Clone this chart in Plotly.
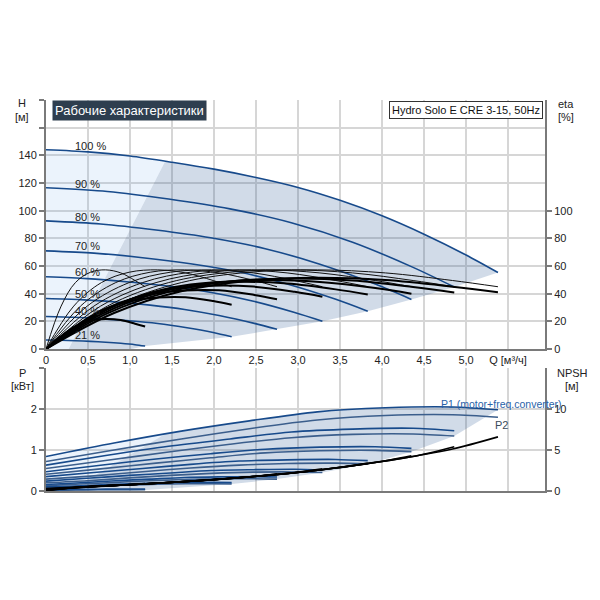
import plotly.graph_objects as go

# ---------------- data ----------------
speed_labels = ["100 %", "90 %", "80 %", "70 %", "60 %", "50 %", "40 %", "21 %"]
speed_label_q = 0.32
speed_label_h = [146.4, 119.0, 95.7, 74.1, 55.3, 39.6, 27.5, 10.1]

x_tick_vals = [0, 0.5, 1.0, 1.5, 2.0, 2.5, 3.0, 3.5, 4.0, 4.5, 5.0, 5.5]
x_tick_text = ["0", "0,5", "1,0", "1,5", "2,0", "2,5", "3,0", "3,5", "4,0", "4,5", "5,0", "Q [м³/ч]"]
h_tick_vals = [0, 20, 40, 60, 80, 100, 120, 140, 160, 180]
h_tick_text = ["0", "20", "40", "60", "80", "100", "120", "140", "", ""]
eta_tick_vals = [0, 20, 40, 60, 80, 100]
p_tick_vals = [0, 1, 2, 3]
p_tick_text = ["0", "1", "2", ""]
npsh_tick_vals = [0, 5, 10]

# flow points (m3/h) per speed
q_100 = [0, 0.81, 1.61, 2.42, 3.23, 4.04, 4.84, 5.38]
q_90 = [0, 0.73, 1.46, 2.19, 2.92, 3.65, 4.37, 4.86]
q_80 = [0, 0.65, 1.31, 1.96, 2.61, 3.26, 3.92, 4.35]
q_70 = [0, 0.57, 1.15, 1.72, 2.30, 2.87, 3.45, 3.83]
q_60 = [0, 0.49, 0.99, 1.48, 1.97, 2.47, 2.96, 3.29]
q_50 = [0, 0.41, 0.83, 1.24, 1.65, 2.06, 2.48, 2.75]
q_40 = [0, 0.33, 0.66, 0.99, 1.33, 1.66, 1.99, 2.21]
q_21 = [0, 0.18, 0.35, 0.53, 0.71, 0.89, 1.06, 1.18]

# head H (m)
q_h100 = [0, 0.5, 1.0, 1.5, 2.0, 2.5, 3.0, 3.5, 4.0, 4.5, 5.0, 5.38]
h_100 = [144, 142.5, 139.5, 135, 130, 124, 116.8, 107.5, 96.3, 83, 68, 55.3]
h_90 = [116.6, 113.9, 108.4, 101.3, 91.3, 77.2, 59.0, 44.8]
h_80 = [92.6, 90.4, 86.0, 80.4, 72.5, 61.3, 46.9, 35.8]
h_70 = [70.9, 69.3, 66.0, 61.6, 55.6, 47.0, 35.9, 27.3]
h_60 = [52.2, 50.9, 48.4, 45.3, 40.8, 34.5, 26.4, 20.1]
h_50 = [36.5, 35.7, 34.0, 31.7, 28.6, 24.2, 18.5, 14.2]
h_40 = [23.5, 22.9, 21.8, 20.4, 18.4, 15.5, 11.9, 8.8]
h_21 = [6.5, 6.3, 6.0, 5.5, 4.9, 4.1, 3.1, 2.1]

# pump efficiency (thin) and total efficiency (thick), %
eta_p_100 = [0, 31, 48, 55.5, 57.2, 55, 49.5, 45]
eta_p_90 = [0, 31, 48, 55.5, 57.2, 55, 49.5, 45]
eta_p_80 = [0, 31, 48, 55.5, 57.2, 55, 49.5, 45]
eta_p_70 = [0, 31, 48, 55.5, 57.2, 55, 49.5, 45]
eta_p_60 = [0, 31, 48, 55.5, 57.2, 55, 49.5, 45]
eta_p_50 = [0, 31, 48, 55.5, 57.2, 55, 49.5, 45]
eta_p_40 = [0, 31, 48, 55.5, 57.2, 55, 49.5, 45]
eta_p_21 = [0, 31, 48, 55.5, 57.2, 55, 49.5, 45]
eta_t_100 = [0, 26.0, 41.8, 49.4, 51.5, 49.8, 45.0, 41.0]
eta_t_90 = [0, 25.7, 41.3, 48.8, 50.9, 49.5, 44.8, 40.8]
eta_t_80 = [0, 24.8, 40.3, 47.7, 49.8, 48.4, 44.1, 40.0]
eta_t_70 = [0, 23.6, 38.9, 46.6, 48.6, 47.3, 43.1, 39.4]
eta_t_60 = [0, 21.1, 35.5, 43.3, 45.8, 45.1, 41.3, 37.8]
eta_t_50 = [0, 18.6, 32.2, 39.4, 42.3, 42.4, 39.1, 36.0]
eta_t_40 = [0, 15.5, 27.8, 34.4, 37.2, 37.4, 34.7, 32.0]
eta_t_21 = [0, 9.3, 16.3, 20.5, 21.7, 20.9, 18.3, 16.2]

# power P1 (motor + freq. converter) and P2, kW
p1_100 = [0.84, 1.17, 1.46, 1.71, 1.93, 2.03, 2.05, 1.98]
p1_90 = [0.63, 0.87, 1.09, 1.27, 1.44, 1.51, 1.53, 1.47]
p1_80 = [0.47, 0.63, 0.78, 0.91, 1.02, 1.07, 1.08, 1.04]
p1_70 = [0.35, 0.45, 0.55, 0.65, 0.73, 0.76, 0.77, 0.74]
p1_60 = [0.24, 0.31, 0.38, 0.44, 0.50, 0.52, 0.53, 0.51]
p1_50 = [0.16, 0.20, 0.25, 0.29, 0.33, 0.345, 0.35, 0.34]
p1_40 = [0.10, 0.12, 0.15, 0.175, 0.20, 0.21, 0.21, 0.205]
p1_21 = [0.03, 0.034, 0.038, 0.042, 0.045, 0.047, 0.047, 0.046]
p2_100 = [0.72, 1.00, 1.27, 1.52, 1.73, 1.84, 1.86, 1.80]
p2_90 = [0.55, 0.75, 0.95, 1.14, 1.30, 1.38, 1.39, 1.34]
p2_80 = [0.41, 0.54, 0.68, 0.81, 0.93, 0.98, 0.99, 0.96]
p2_70 = [0.29, 0.37, 0.47, 0.56, 0.63, 0.67, 0.68, 0.66]
p2_60 = [0.20, 0.25, 0.32, 0.38, 0.43, 0.46, 0.465, 0.45]
p2_50 = [0.13, 0.17, 0.21, 0.25, 0.28, 0.30, 0.30, 0.29]
p2_40 = [0.08, 0.10, 0.12, 0.145, 0.165, 0.175, 0.175, 0.17]
p2_21 = [0.015, 0.019, 0.023, 0.027, 0.030, 0.031, 0.032, 0.031]

# NPSH (m)
npsh_100 = [0.3, 0.68, 1.12, 1.72, 2.54, 3.67, 5.12, 6.6]
npsh_90 = [0.25, 0.64, 1.03, 1.53, 2.18, 3.08, 4.2, 5.4]
npsh_80 = [0.2, 0.6, 0.94, 1.36, 1.89, 2.57, 3.47, 4.3]
npsh_70 = [0.15, 0.56, 0.86, 1.2, 1.62, 2.14, 2.8, 3.4]
npsh_60 = [0.12, 0.52, 0.77, 1.04, 1.37, 1.77, 2.24, 2.7]
npsh_50 = [0.09, 0.48, 0.69, 0.9, 1.15, 1.43, 1.77, 2.1]
npsh_40 = [0.06, 0.4, 0.6, 0.77, 0.95, 1.15, 1.37, 1.6]
npsh_21 = [0.02, 0.25, 0.4, 0.5, 0.6, 0.7, 0.8, 0.9]

# operating-range shading boundaries
min_flow_q = [1.42, 0.88, 0.27]
min_flow_h = [135.8, 72, 0]
min_flow_p = [1.39, 0.0]
end_q = [4.86, 4.35, 3.83, 3.29, 2.75, 2.21, 1.18, 1.02]
end_h = [44.8, 35.8, 27.3, 20.1, 14.2, 8.8, 2.1, 0]
end_p2 = [1.34, 0.96, 0.66, 0.45, 0.29, 0.17, 0.031, 0]

# ---------------- figure ----------------
q_list = [q_100, q_90, q_80, q_70, q_60, q_50, q_40, q_21]
h_list = [h_100, h_90, h_80, h_70, h_60, h_50, h_40, h_21]
hq_list = [q_h100, q_90, q_80, q_70, q_60, q_50, q_40, q_21]
eta_p_list = [eta_p_100, eta_p_90, eta_p_80, eta_p_70, eta_p_60, eta_p_50, eta_p_40, eta_p_21]
eta_t_list = [eta_t_100, eta_t_90, eta_t_80, eta_t_70, eta_t_60, eta_t_50, eta_t_40, eta_t_21]
p1_list = [p1_100, p1_90, p1_80, p1_70, p1_60, p1_50, p1_40, p1_21]
p2_list = [p2_100, p2_90, p2_80, p2_70, p2_60, p2_50, p2_40, p2_21]
npsh_list = [npsh_100, npsh_90, npsh_80, npsh_70, npsh_60, npsh_50, npsh_40, npsh_21]

BLUE = "#174a8b"
BLUE2 = "#3b5e8c"
SHADE = "rgba(25,75,140,0.2)"
LIGHT = "rgba(100,160,230,0.13)"
GRID = "#d6d6d6"
AXIS = "#7a7a7a"
FONT = "Liberation Sans, Arial, sans-serif"

fig = go.Figure()

# --- H plot shading ---
lx = [q for q in q_h100 if q < min_flow_q[0]]
ly = [h for q, h in zip(q_h100, h_100) if q < min_flow_q[0]]
fig.add_trace(go.Scatter(
    x=[0] + lx + min_flow_q, y=[0] + ly + min_flow_h,
    fill="toself", fillcolor=LIGHT, line=dict(width=0), mode="lines",
    hoverinfo="skip", xaxis="x", yaxis="y"))
dx = [q for q in q_h100 if q > min_flow_q[0]]
dy = [h for q, h in zip(q_h100, h_100) if q > min_flow_q[0]]
fig.add_trace(go.Scatter(
    x=[min_flow_q[0]] + dx + end_q + min_flow_q[::-1][:2],
    y=[min_flow_h[0]] + dy + end_h + min_flow_h[::-1][:2],
    fill="toself", fillcolor=SHADE, line=dict(width=0), mode="lines",
    hoverinfo="skip", xaxis="x", yaxis="y"))

# --- H curves ---
for qq, hh in zip(hq_list, h_list):
    fig.add_trace(go.Scatter(x=qq, y=hh, mode="lines",
                             line=dict(color=BLUE, width=1.6, shape="spline", smoothing=0.8),
                             hoverinfo="skip", xaxis="x", yaxis="y"))

# --- efficiency curves ---
for qq, ee in zip(q_list, eta_p_list):
    fig.add_trace(go.Scatter(x=qq, y=ee, mode="lines",
                             line=dict(color="#111111", width=1, shape="spline", smoothing=1.0),
                             hoverinfo="skip", xaxis="x", yaxis="y2"))
for qq, ee in zip(q_list, eta_t_list):
    fig.add_trace(go.Scatter(x=qq, y=ee, mode="lines",
                             line=dict(color="#000000", width=2, shape="spline", smoothing=1.0),
                             hoverinfo="skip", xaxis="x", yaxis="y2"))

# --- P plot shading ---
plx = [q for q in q_100 if q < min_flow_q[0]]
ply = [p for q, p in zip(q_100, p1_100) if q < min_flow_q[0]]
fig.add_trace(go.Scatter(
    x=[0] + plx + [min_flow_q[0], min_flow_q[2]], y=[0] + ply + min_flow_p,
    fill="toself", fillcolor=LIGHT, line=dict(width=0), mode="lines",
    hoverinfo="skip", xaxis="x2", yaxis="y3"))
pdx = [q for q in q_100 if q > min_flow_q[0]]
pdy = [p for q, p in zip(q_100, p1_100) if q > min_flow_q[0]]
fig.add_trace(go.Scatter(
    x=[min_flow_q[0]] + pdx + end_q + [min_flow_q[2]],
    y=[min_flow_p[0]] + pdy + end_p2 + [min_flow_p[1]],
    fill="toself", fillcolor=SHADE, line=dict(width=0), mode="lines",
    hoverinfo="skip", xaxis="x2", yaxis="y3"))

# --- P curves ---
for qq, pp in zip(q_list, p2_list):
    fig.add_trace(go.Scatter(x=qq, y=pp, mode="lines",
                             line=dict(color=BLUE2, width=1.6, shape="spline", smoothing=0.8),
                             hoverinfo="skip", xaxis="x2", yaxis="y3"))
for qq, pp in zip(q_list, p1_list):
    fig.add_trace(go.Scatter(x=qq, y=pp, mode="lines",
                             line=dict(color=BLUE, width=1.6, shape="spline", smoothing=0.8),
                             hoverinfo="skip", xaxis="x2", yaxis="y3"))

# --- NPSH curves ---
for qq, nn in zip(q_list, npsh_list):
    fig.add_trace(go.Scatter(x=qq, y=nn, mode="lines",
                             line=dict(color="#000000", width=1.6, shape="spline", smoothing=0.8),
                             hoverinfo="skip", xaxis="x2", yaxis="y4"))

# --- annotations ---
ann = []
for lab, hv in zip(speed_labels, speed_label_h):
    ann.append(dict(x=speed_label_q, y=hv, xref="x", yref="y", text=lab, showarrow=False,
                    xanchor="left", yanchor="middle", font=dict(size=11, color="#222222", family=FONT)))

W, H0 = 499.0, 391.0
def px(xp):
    return (xp - 46) / W
def py(yp):
    return (491 - yp) / H0

side_texts = [("H", 22, 103), ("[м]", 22, 117), ("eta", 566, 104), ("[%]", 566, 117),
              ("P", 22, 373), ("[кВт]", 22, 386), ("NPSH", 572, 373), ("[м]", 572, 386)]
for t, xx, yy in side_texts:
    ann.append(dict(x=px(xx), y=py(yy), xref="paper", yref="paper", text=t, showarrow=False,
                    xanchor="center", yanchor="middle", font=dict(size=11, color="#222222", family=FONT)))

ann.append(dict(x=px(52), y=py(100), xref="paper", yref="paper", text="Рабочие характеристики",
                showarrow=False, xanchor="left", yanchor="top", bgcolor="#2e3e4f", borderpad=2,
                font=dict(size=13, color="#ffffff", family=FONT)))
ann.append(dict(x=px(543), y=py(101), xref="paper", yref="paper", text="Hydro Solo E CRE 3-15, 50Hz",
                showarrow=False, xanchor="right", yanchor="top", bgcolor="#ffffff", bordercolor="#333333",
                borderwidth=1, borderpad=2, font=dict(size=11, color="#111111", family=FONT)))
ann.append(dict(x=4.68, y=2.12, xref="x2", yref="y3", text="P1 (motor+freq.converter)", showarrow=False,
                xanchor="left", yanchor="middle", font=dict(size=10.5, color="#2a62a8", family=FONT)))
ann.append(dict(x=5.32, y=1.62, xref="x2", yref="y3", text="P2", showarrow=False,
                xanchor="left", yanchor="middle", font=dict(size=11, color="#3a4a5a", family=FONT)))

tickfont = dict(size=11, color="#222222", family=FONT)
common_x = dict(range=[0, 5.94], tickvals=x_tick_vals, showgrid=True, gridcolor=GRID, gridwidth=1.5,
                showline=True, linecolor=AXIS, linewidth=2, ticks="", zeroline=False, tickfont=tickfont)
common_y = dict(showline=True, linecolor=AXIS, linewidth=2, ticks="outside", ticklen=5, tickwidth=1.5,
                tickcolor=AXIS, zeroline=False, tickfont=tickfont)

fig.update_layout(
    width=600, height=600,
    margin=dict(l=46, r=55, t=100, b=109),
    plot_bgcolor="#ffffff", paper_bgcolor="#ffffff",
    showlegend=False,
    font=dict(family=FONT),
    xaxis=dict(domain=[0, 1], anchor="y", ticktext=x_tick_text, **common_x),
    yaxis=dict(domain=[0.3632, 1], anchor="x", range=[0, 180], tickvals=h_tick_vals, ticktext=h_tick_text,
               showgrid=True, gridcolor=GRID, gridwidth=1.5, **common_y),
    yaxis2=dict(overlaying="y", side="right", anchor="x", range=[0, 180], tickvals=eta_tick_vals,
                showgrid=False, **common_y),
    xaxis2=dict(domain=[0, 1], anchor="y3", showticklabels=False, **common_x),
    yaxis3=dict(domain=[0, 0.3146], anchor="x2", range=[0, 3], tickvals=p_tick_vals, ticktext=p_tick_text,
                showgrid=True, gridcolor=GRID, gridwidth=1.5, **common_y),
    yaxis4=dict(overlaying="y3", side="right", anchor="x2", range=[0, 15], tickvals=npsh_tick_vals,
                showgrid=False, **common_y),
    annotations=ann,
)

fig.write_html("out.html", config={"displayModeBar": False},
               post_script="document.body.style.margin='0';")
